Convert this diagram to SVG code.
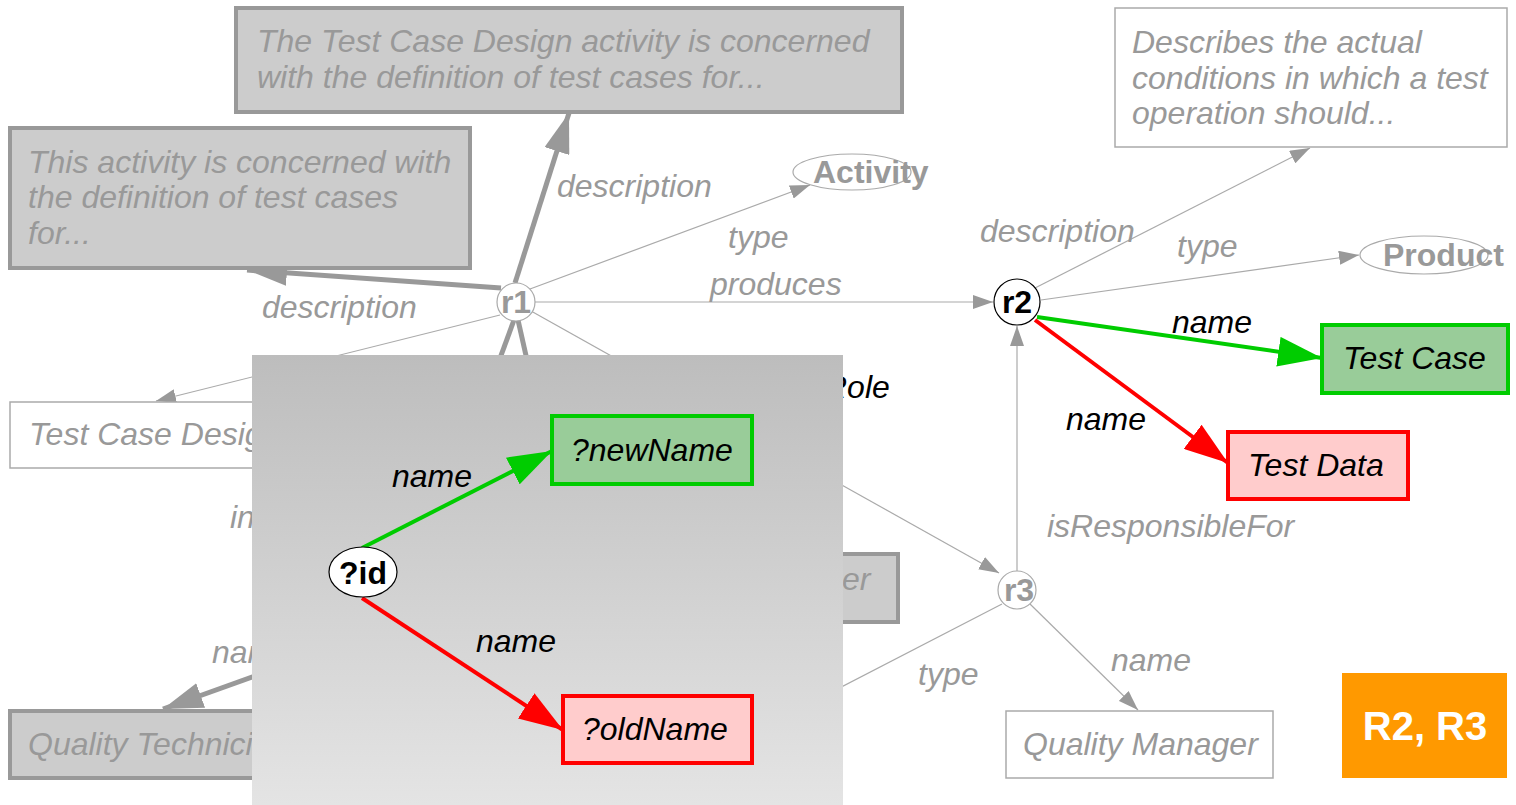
<svg xmlns="http://www.w3.org/2000/svg" width="1516" height="805" viewBox="0 0 1516 805">
<style>
text{font-family:"Liberation Sans",Arial,sans-serif;font-size:32px}
.gi{fill:#999;font-style:italic}
.bi{fill:#000;font-style:italic}
.gb{fill:#999;font-weight:bold}
.big{font-size:40px;font-weight:bold;fill:#fff}
.thin{stroke:#aaa;stroke-width:1.2;fill:none}
.thick{stroke:#999;stroke-width:5;fill:none}
.grn{stroke:#00cc00;stroke-width:4;fill:none}
.red{stroke:#ff0000;stroke-width:4;fill:none}
.gbox{fill:#ccc;stroke:#999;stroke-width:4}
.wbox{fill:#fff;stroke:#aaa;stroke-width:1.5}
.gnode{fill:#99cc99;stroke:#00cc00;stroke-width:4}
.rnode{fill:#ffcccc;stroke:#ff0000;stroke-width:4}
</style>
<defs>
<marker id="mThin" markerUnits="userSpaceOnUse" markerWidth="20" markerHeight="14" refX="20" refY="7" orient="auto"><path d="M0,0L20,7L0,14z" fill="#999"/></marker>
<marker id="mThick" markerUnits="userSpaceOnUse" markerWidth="40" markerHeight="26" refX="40" refY="13" orient="auto"><path d="M0,0L40,13L0,26z" fill="#999"/></marker>
<marker id="mGreen" markerUnits="userSpaceOnUse" markerWidth="44" markerHeight="30" refX="44" refY="15" orient="auto"><path d="M0,0L44,15L0,30z" fill="#00cc00"/></marker>
<marker id="mRed" markerUnits="userSpaceOnUse" markerWidth="44" markerHeight="30" refX="44" refY="15" orient="auto"><path d="M0,0L44,15L0,30z" fill="#ff0000"/></marker>
<linearGradient id="panelGrad" x1="0" y1="0" x2="0" y2="1"><stop offset="0" stop-color="#bdbdbd"/><stop offset="1" stop-color="#e4e4e4"/></linearGradient>
</defs>
<rect width="1516" height="805" fill="#fff"/>
<g id="connectors">
<line class="thick" x1="501" y1="288" x2="247" y2="270" marker-end="url(#mThick)"/>
<line class="thick" x1="515" y1="283" x2="569" y2="113" marker-end="url(#mThick)"/>
<line class="thin" x1="530" y1="289" x2="810" y2="185" marker-end="url(#mThin)"/>
<line class="thin" x1="535" y1="302" x2="993" y2="302" marker-end="url(#mThin)"/>
<line class="thin" x1="500" y1="315" x2="156" y2="401" marker-end="url(#mThin)"/>
<line class="thin" x1="531" y1="311" x2="999" y2="573" marker-end="url(#mThin)"/>
<line class="thick" x1="514" y1="320" x2="470" y2="440"/>
<line class="thick" x1="518" y1="320" x2="545" y2="440"/>
<line class="thick" x1="380" y1="631" x2="163" y2="709" marker-end="url(#mThick)"/>
<line class="thin" x1="1035" y1="288" x2="1310" y2="148" marker-end="url(#mThin)"/>
<line class="thin" x1="1041" y1="300" x2="1359" y2="255" marker-end="url(#mThin)"/>
<line class="grn" x1="1037" y1="317" x2="1322" y2="358" marker-end="url(#mGreen)"/>
<line class="red" x1="1035" y1="320" x2="1228" y2="463" marker-end="url(#mRed)"/>
<line class="thin" x1="1017" y1="571" x2="1017" y2="326" marker-end="url(#mThin)"/>
<line class="thin" x1="1030" y1="604" x2="1138" y2="710" marker-end="url(#mThin)"/>
<line class="thin" x1="1002" y1="604" x2="760" y2="729"/>
<text class="gi" x="262" y="318">description</text>
<text class="gi" x="557" y="197">description</text>
<text class="gi" x="728" y="248">type</text>
<text class="gi" x="710" y="295">produces</text>
<text class="gi" x="980" y="242">description</text>
<text class="gi" x="1177" y="257">type</text>
<text class="gi" x="1047" y="537">isResponsibleFor</text>
<text class="gi" x="918" y="685">type</text>
<text class="gi" x="1111" y="671">name</text>
<text class="gi" x="230" y="528">in</text>
<text class="gi" x="212" y="663">name</text>
<text class="bi" x="1172" y="333">name</text>
<text class="bi" x="1066" y="430">name</text>
<text class="bi" x="824" y="398">Role</text>
</g>
<g id="desc-top">
<rect class="gbox" x="236" y="8" width="666" height="104"/>
<text class="gi" x="257" y="52">The Test Case Design activity is concerned</text>
<text class="gi" x="257" y="88">with the definition of test cases for...</text>
</g>
<g id="desc-left">
<rect class="gbox" x="10" y="128" width="460" height="140"/>
<text class="gi" x="28" y="173">This activity is concerned with</text>
<text class="gi" x="28" y="208">the definition of test cases</text>
<text class="gi" x="28" y="244">for...</text>
</g>
<g id="activity">
<ellipse cx="852" cy="172" rx="59" ry="18" fill="#fff" stroke="#aaa" stroke-width="1.2"/>
<text class="gb" x="813" y="183">Activity</text>
</g>
<g id="r1">
<circle cx="516" cy="302" r="19" fill="#fff" stroke="#aaa" stroke-width="1.2"/>
<text class="gb" x="516" y="313" text-anchor="middle">r1</text>
</g>
<g id="r2">
<circle cx="1017" cy="302" r="23" fill="#fff" stroke="#000" stroke-width="1.2"/>
<text x="1017" y="313" text-anchor="middle" font-weight="bold">r2</text>
</g>
<g id="r3">
<circle cx="1017" cy="590" r="19" fill="#fff" stroke="#aaa" stroke-width="1.2"/>
<text class="gb" x="1019" y="601" text-anchor="middle">r3</text>
</g>
<g id="desc-right">
<rect class="wbox" x="1115" y="8" width="392" height="139"/>
<text class="gi" x="1132" y="53">Describes the actual</text>
<text class="gi" x="1132" y="89">conditions in which a test</text>
<text class="gi" x="1132" y="124">operation should...</text>
</g>
<g id="product">
<ellipse cx="1424" cy="255" rx="64" ry="19" fill="#fff" stroke="#aaa" stroke-width="1.2"/>
<text class="gb" x="1383" y="266">Product</text>
</g>
<g id="test-case">
<rect class="gnode" x="1322" y="325" width="186" height="68"/>
<text class="bi" x="1343" y="369">Test Case</text>
</g>
<g id="test-data">
<rect class="rnode" x="1228" y="432" width="180" height="67"/>
<text class="bi" x="1248" y="476">Test Data</text>
</g>
<g id="quality-manager">
<rect class="wbox" x="1006" y="711" width="267" height="67"/>
<text class="gi" x="1023" y="755">Quality Manager</text>
</g>
<g id="test-case-design">
<rect class="wbox" x="10" y="402" width="300" height="66"/>
<text class="gi" x="29" y="445">Test Case Design</text>
</g>
<g id="quality-technician">
<rect class="gbox" x="10" y="711" width="300" height="67"/>
<text class="gi" x="28" y="755">Quality Technician</text>
</g>
<g id="er-node">
<rect class="gbox" x="700" y="554" width="198" height="68"/>
<text class="gi" x="842" y="590">er</text>
</g>
<g id="rule-label">
<rect x="1342" y="673" width="165" height="105" fill="#ff9900"/>
<text class="big" x="1425" y="740" text-anchor="middle">R2, R3</text>
</g>
<g id="pattern-panel">
<rect x="252" y="355" width="591" height="450" fill="url(#panelGrad)"/>
</g>
<g id="panel-connectors">
<line class="grn" x1="362" y1="548" x2="552" y2="451" marker-end="url(#mGreen)"/>
<line class="red" x1="362" y1="598" x2="563" y2="730" marker-end="url(#mRed)"/>
<text class="bi" x="392" y="487">name</text>
<text class="bi" x="476" y="652">name</text>
</g>
<g id="var-id">
<ellipse cx="363" cy="572" rx="34" ry="25" fill="#fff" stroke="#000" stroke-width="1.2"/>
<text x="363" y="584" text-anchor="middle" font-weight="bold">?id</text>
</g>
<g id="var-newName">
<rect class="gnode" x="552" y="416" width="200" height="68"/>
<text class="bi" x="571" y="461">?newName</text>
</g>
<g id="var-oldName">
<rect class="rnode" x="563" y="696" width="189" height="67"/>
<text class="bi" x="582" y="740">?oldName</text>
</g>
</svg>
